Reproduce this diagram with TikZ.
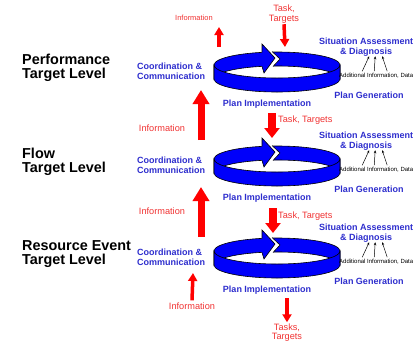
\documentclass[tikz,border=0pt]{standalone}
\usepackage{fontspec}
\setmainfont{Liberation Sans}
\usetikzlibrary{arrows.meta}
\definecolor{anillo}{RGB}{0,0,250}
\definecolor{azul}{RGB}{45,45,205}
\definecolor{rojo}{RGB}{240,50,50}

\begin{document}
\begin{tikzpicture}[x=1pt,y=-1pt,
    nivel/.style={font=\fontsize{14.4}{14.5}\selectfont\bfseries,align=left,anchor=west,inner sep=0pt},
    etiqueta/.style={text=azul,font=\fontsize{9}{9.6}\selectfont\bfseries,inner sep=0pt},
    rotulo/.style={text=rojo,font=\fontsize{9.2}{9.5}\selectfont,inner sep=0pt},
    borde/.style={draw=black,line width=0.6pt},
    flechagrande/.style={draw=red,line width=7pt,-{Triangle[length=14pt,width=16pt]}},
    flechamedia/.style={draw=red,line width=7.5pt,-{Triangle[length=10pt,width=15pt]}},
    flechachica/.style={draw=red,line width=3.5pt,-{Triangle[length=8pt,width=9pt]}},
    flechita/.style={line width=0.5pt,-{Stealth[length=3pt,width=2.5pt]}}]
    \useasboundingbox (0,0) rectangle (413,341);
    % Niveles: anillo y etiquetas
    \foreach \cy/\n/\titulo in {65/a/{Performance\\Target Level},159/b/{Flow\\Target Level},251/c/{Resource Event\\Target Level}}{
        \filldraw[fill=anillo,borde] (214,\cy) arc[start angle=180,end angle=0,x radius=63pt,y radius=13pt]
            -- ++(0,14) arc[start angle=0,end angle=180,x radius=63pt,y radius=13pt] -- cycle;
        \fill[white] (265,\cy-16) -- (272,\cy-16) -- (272,\cy-13.5) -- (280,\cy-6) -- (273,\cy+1.5) -- (273,\cy+4) -- (265,\cy+4) -- cycle;
        \fill[anillo] (262,\cy-12) -- (262,\cy-21) -- (275,\cy-7) -- (264,\cy+8) -- (262,\cy+1.5) -- cycle;
        \draw[borde] (262,\cy-12.6) -- (262,\cy-21) -- (275,\cy-7) -- (264,\cy+8) -- (262,\cy+1.4);
        \draw[borde] (272,\cy-13.5) -- (280,\cy-6) -- (273,\cy+1.5);
        \filldraw[fill=anillo,borde] (214,\cy) arc[start angle=180,end angle=360,x radius=63pt,y radius=13pt]
            -- ++(0,14) arc[start angle=0,end angle=-180,x radius=63pt,y radius=13pt] -- cycle;
        \node[nivel] (nivel\n) at (22,\cy+3) {\titulo};
        \node[etiqueta,anchor=west,align=left] (coord\n) at (137,\cy+6.5) {Coordination \&\\Communication};
        \node[etiqueta] (impl\n) at (267,\cy+39) {Plan Implementation};
        \node[etiqueta,anchor=west,align=center] (diag\n) at (319,\cy-18) {Situation Assessment\\\& Diagnosis};
        \node[anchor=west,inner sep=0pt,font=\fontsize{6}{6.5}\selectfont] (info\n) at (339,\cy+11) {Additional Information, Data};
        \node[etiqueta] (gen\n) at (369,\cy+30) {Plan Generation};
        \draw[flechita] ([xshift=-14pt,yshift=2pt]info\n.north) -- ([xshift=3pt]diag\n.south);
        \draw[flechita] ([xshift=-2pt,yshift=2pt]info\n.north) -- ([xshift=9pt]diag\n.south);
        \draw[flechita] ([xshift=11pt,yshift=2pt]info\n.north) -- ([xshift=16pt]diag\n.south);
    }
    % Nivel superior
    \node[rotulo,font=\fontsize{7.5}{8}\selectfont] (infoA) at (194,18) {Information};
    \coordinate (salidaA) at (219,47);
    \coordinate (puntaA) at (219,27);
    \draw[flechachica] (salidaA) -- (puntaA);
    \node[rotulo,align=center] (tareasA) at (284,14) {Task,\\Targets};
    \coordinate (llegadaA) at (285,47);
    \draw[flechachica] ([yshift=-1pt]tareasA.south) -- (llegadaA);
    % Entre niveles
    \coordinate (baseAB) at (201,140);
    \coordinate (puntaAB) at (201,90);
    \draw[flechagrande] (baseAB) -- (puntaAB);
    \node[rotulo] (infoAB) at (162,128) {Information};
    \coordinate (bajaAB) at (272,113);
    \coordinate (llegaAB) at (272,138);
    \draw[flechamedia] (bajaAB) -- (llegaAB);
    \node[rotulo,anchor=west] (tareasAB) at (278,120) {Task, Targets};
    \coordinate (baseBC) at (201,237);
    \coordinate (puntaBC) at (201,187);
    \draw[flechagrande] (baseBC) -- (puntaBC);
    \node[rotulo] (infoBC) at (162,211) {Information};
    \coordinate (bajaBC) at (273,208);
    \coordinate (llegaBC) at (273,233);
    \draw[flechamedia] (bajaBC) -- (llegaBC);
    \node[rotulo,anchor=west] (tareasBC) at (278,216) {Task, Targets};
    % Nivel inferior
    \node[rotulo] (infoC) at (192,306) {Information};
    \coordinate (puntaC) at (193,273);
    \draw[flechachica] ([yshift=2pt]infoC.north) -- (puntaC);
    \node[rotulo,align=center] (tareasC) at (287,332.5) {Tasks,\\Targets};
    \coordinate (salidaC) at (287,298);
    \draw[flechachica] (salidaC) -- ([yshift=1pt]tareasC.north);
\end{tikzpicture}
\end{document}
